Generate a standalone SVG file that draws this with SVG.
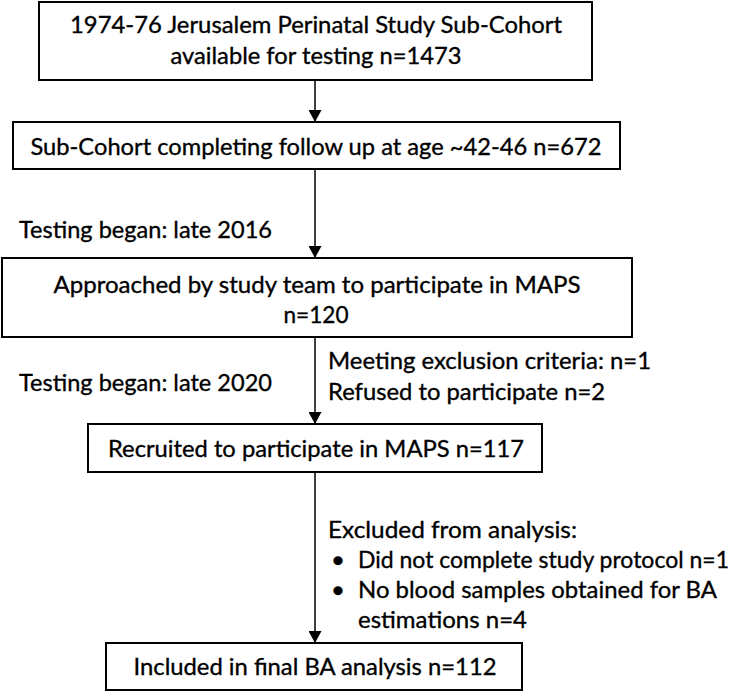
<svg xmlns="http://www.w3.org/2000/svg" width="741" height="692" viewBox="0 0 741 692">
<defs>
<marker id="ah" markerWidth="12" markerHeight="13" refX="12" refY="6.5" orient="auto" markerUnits="userSpaceOnUse">
<path d="M0,0 L12,6.5 L0,13 Z" fill="#000"/>
</marker>
<style>
.box{fill:#fff;stroke:#000;stroke-width:2}
.t{font-family:Lato,"Open Sans","Liberation Sans",sans-serif;font-size:24px;fill:#000;stroke:#000;stroke-width:0.35}
.c{text-anchor:middle}
.ln{stroke:#000;stroke-width:1.5;fill:none}
</style>
</defs>
<rect width="741" height="692" fill="#fff"/>
<g id="connectors">
<line class="ln" x1="315" y1="80" x2="315" y2="122" marker-end="url(#ah)"/>
<line class="ln" x1="315" y1="169" x2="315" y2="258" marker-end="url(#ah)"/>
<line class="ln" x1="315" y1="337" x2="315" y2="424" marker-end="url(#ah)"/>
<line class="ln" x1="315" y1="472" x2="315" y2="643" marker-end="url(#ah)"/>
</g>
<g id="n1">
<rect class="box" x="39" y="2" width="553" height="78"/>
<text class="t c" x="316" y="33" textLength="492" lengthAdjust="spacingAndGlyphs">1974-76 Jerusalem Perinatal Study Sub-Cohort</text>
<text class="t c" x="316" y="64" textLength="291" lengthAdjust="spacingAndGlyphs">available for testing n=1473</text>
</g>
<g id="n2">
<rect class="box" x="13" y="122" width="607" height="47"/>
<text class="t c" x="316" y="155" textLength="571" lengthAdjust="spacingAndGlyphs">Sub-Cohort completing follow up at age ~42-46 n=672</text>
</g>
<g id="lbl2016">
<text class="t" x="19" y="238" textLength="253" lengthAdjust="spacingAndGlyphs">Testing began: late 2016</text>
</g>
<g id="n3">
<rect class="box" x="2" y="258" width="630" height="79"/>
<text class="t c" x="317" y="293" textLength="527" lengthAdjust="spacingAndGlyphs">Approached by study team to participate in MAPS</text>
<text class="t c" x="316" y="323" textLength="65" lengthAdjust="spacingAndGlyphs">n=120</text>
</g>
<g id="excl1">
<text class="t" x="328" y="369" textLength="323" lengthAdjust="spacingAndGlyphs">Meeting exclusion criteria: n=1</text>
<text class="t" x="328" y="400" textLength="277" lengthAdjust="spacingAndGlyphs">Refused to participate n=2</text>
</g>
<g id="lbl2020">
<text class="t" x="19" y="391" textLength="253" lengthAdjust="spacingAndGlyphs">Testing began: late 2020</text>
</g>
<g id="n4">
<rect class="box" x="88" y="424" width="454" height="48"/>
<text class="t c" x="316" y="457" textLength="416" lengthAdjust="spacingAndGlyphs">Recruited to participate in MAPS n=117</text>
</g>
<g id="excl2">
<text class="t" x="328" y="538" textLength="249" lengthAdjust="spacingAndGlyphs">Excluded from analysis:</text>
<text class="t" x="331" y="568">•</text>
<text class="t" x="358" y="568" font-size="23" textLength="371" lengthAdjust="spacingAndGlyphs" style="font-size:23px">Did not complete study protocol n=1</text>
<text class="t" x="331" y="598">•</text>
<text class="t" x="358" y="598" textLength="359" lengthAdjust="spacingAndGlyphs">No blood samples obtained for BA</text>
<text class="t" x="358" y="628" textLength="169" lengthAdjust="spacingAndGlyphs">estimations n=4</text>
</g>
<g id="n5">
<rect class="box" x="106" y="643" width="416" height="47"/>
<text class="t c" x="315" y="675" textLength="363" lengthAdjust="spacingAndGlyphs">Included in final BA analysis n=112</text>
</g>
</svg>
